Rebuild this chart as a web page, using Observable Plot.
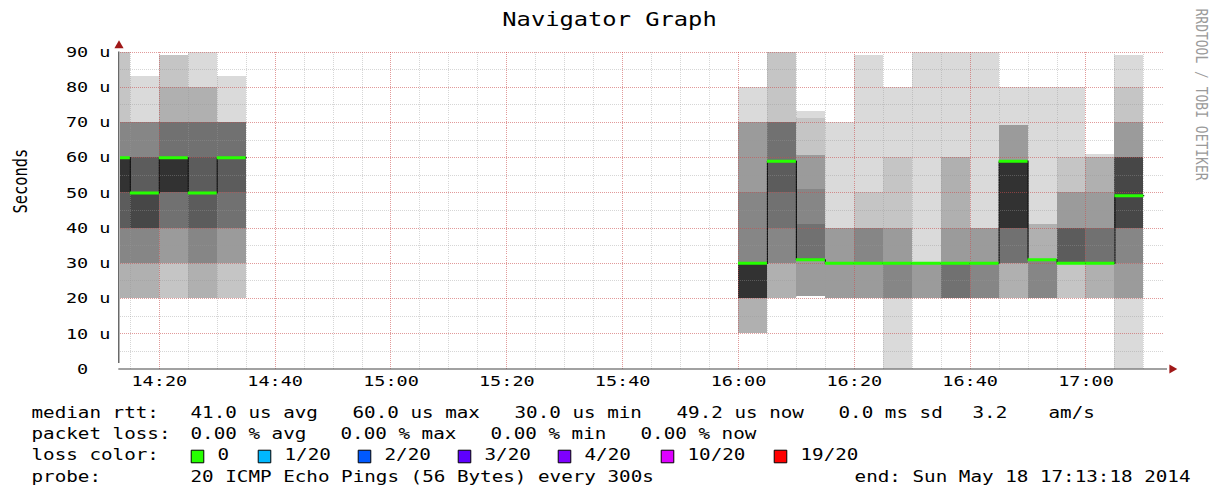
<!DOCTYPE html>
<html>
<head>
<meta charset="utf-8">
<script src="https://cdn.jsdelivr.net/npm/d3@7"></script>
<script src="https://cdn.jsdelivr.net/npm/@observablehq/plot@0.6"></script>
<style>
  body { margin: 0; background: #fff; }
  #chart { width: 1216px; height: 488px; }
</style>
</head>
<body>
<div id="chart"></div>
<script>
// ---------------- DATA ----------------
const graphStart = "14:13:18";
const graphEnd = "17:13:18";
const stepSeconds = 300;
// end time of each 5-minute step that has data
const stepEnds = ["14:15","14:20","14:25","14:30","14:35",
  "16:05","16:10","16:15","16:20","16:25","16:30","16:35","16:40","16:45","16:50","16:55","17:00","17:05","17:10"];
// sorted smoke ping RTTs (µs) per step
const smokePings = [
  [20,20,20,30,30,40,40,50,50, 60,60,60,60,70,70,70,90,90],
  [20,20,20,30,30,40,40,40,50, 50,50,60,60,70,70,70,70,83],
  [20,20,30,30,40,40,50,50,50, 60,60,60,70,70,70,80,89,89],
  [20,20,20,30,30,40,40,50,50, 50,50,60,70,70,70,80,80,90],
  [20,20,30,30,40,40,50,60,60, 60,60,60,70,70,70,70,70,83],
  [10,10,10,20,20,20,20,20,20, 30,30,30,30,50,70,70,70,80],
  [20,20,20,30,30,40,50,59,59, 59,59,59,70,70,70,70,90,90],
  [20.5,20.5,20.5,20.5,31,31,31,31,31, 31,31,31,41,51,60.5,60.5,71,73],
  [20,20,20,20,30,30,30,30,30, 30,30,30,30,30,40,40,40,70],
  [20,20,20,20,30,30,30,30,30, 30,30,30,30,40,40,40,50,89],
  [0,20,20,20,20,30,30,30,30, 30,30,30,30,30,40,40,60,80],
  [20,20,20,20,30,30,30,30,30, 30,30,30,30,30,30,30,30,90],
  [20,20,20,20,20,20,30,30,30, 30,30,30,30,30,40,60,60,90],
  [20,20,20,20,20,30,30,30,30, 30,30,30,30,30,40,40,40,90],
  [20,20,20,30,30,30,40,40,40, 59,59,59,59,59,69,69,69,80],
  [20,20,20,20,20,31,31,31,31, 31,31,31,31,31,31,41,41,80],
  [20,20,30,30,30,30,30,30,30, 30,30,40,40,40,50,50,60,80],
  [20,20,20,30,30,30,30,30,30, 30,30,30,40,40,50,60,60,61],
  [0,20,20,20,30,40,40,40,49, 49,60,60,60,60,70,70,80,89]
];
const medianRtt = [60,50,60,50,60, 30,59,31,30,30,30,30,30,30,59,31,30,30,49.2];
const stepLossIndex = [0,0,0,0,0, 0,0,0,0,0,0,0,0,0,0,0,0,0,0];

const yTickValues = [0,10,20,30,40,50,60,70,80,90];
const yTickLabels = ["0","10 u","20 u","30 u","40 u","50 u","60 u","70 u","80 u","90 u"];
const xTickLabels = ["14:20","14:40","15:00","15:20","15:40","16:00","16:20","16:40","17:00"];

const titleText = "Navigator Graph";
const yAxisTitle = "Seconds";
const watermark = "RRDTOOL / TOBI OETIKER";
const legendLabels = ["median rtt:", "packet loss:", "loss color:", "probe:"];
const rttStats = ["41.0 us avg", "60.0 us max", "30.0 us min", "49.2 us now", "0.0 ms sd", "3.2", "am/s"];
const lossStats = ["0.00 % avg", "0.00 % max", "0.00 % min", "0.00 % now"];
const lossLabels = ["0", "1/20", "2/20", "3/20", "4/20", "10/20", "19/20"];
const lossColors = ["#26ff00", "#00b8ff", "#0059ff", "#5e00ff", "#7e00ff", "#dd00ff", "#ff0000"];
const probeText = "20 ICMP Echo Pings (56 Bytes) every 300s";
const endText = "end: Sun May 18 17:13:18 2014";

// ---------------- LAYOUT ----------------
const W = 1216, H = 488;
const ML = 120, MR = 53.5, MT = 51.5, MB = 119.5;
const frameBottom = H - MB;
const FONT = "DejaVu Sans Mono";
const STRETCH = 1.25;
const legendRowY = [412.6, 433.8, 455, 476.2];
const legendLabelX = 31;
const rttX = [190, 352, 514, 676, 838, 972, 1048];
const lossX = [190, 340, 490, 640];
const swatchX = [197, 264, 364, 464, 564, 667, 780];
const swatchLabelX = [217, 284, 384, 484, 584, 687, 800];
const endRightX = 1190;

// ---------------- BUILD ----------------
const T = s => { const [h, m, sec = 0] = s.split(":").map(Number); return new Date(Date.UTC(2014, 4, 18, h, m, sec)); };
const t0 = T(graphStart), t1 = T(graphEnd);
const steps = stepEnds.map((e, i) => {
  const end = T(e);
  return {start: new Date(+end - stepSeconds * 1000), end, median: medianRtt[i], pings: smokePings[i],
          color: lossColors[stepLossIndex[i]]};
});

const bandGray = b => { const v = Math.floor(190 / 9 * (9 - (b + 1))) + 50; return `rgb(${v},${v},${v})`; };
const smoke = [];
for (let b = 0; b < 9; b++) {
  for (const s of steps) {
    smoke.push({x1: s.start, x2: s.end, y1: s.pings[b], y2: s.pings[17 - b], fill: bandGray(b)});
  }
}

const medianPath = [];
let g = 0;
steps.forEach((s, i) => {
  if (i > 0 && +steps[i - 1].end !== +s.start) g++;
  medianPath.push({t: s.start, v: s.median, g});
  const next = steps[i + 1];
  if (!next || +next.start !== +s.end) medianPath.push({t: s.end, v: s.median, g});
});

const xMinor = d3.utcMinute.every(5).range(t0, t1);
const xMajor = xTickLabels.map(T);
const yMinor = d3.range(5, 91, 5);
const yMajor = yTickValues.filter(v => v > 0);

const textMarks = [];
const addText = (str, x, y, opts = {}) => textMarks.push(Plot.text([str], {
  frameAnchor: "bottom-left", lineAnchor: "middle", dx: x - ML, dy: y - frameBottom, textAnchor: "start",
  fontSize: 15.4, fontFamily: FONT, fill: "#000", ...opts
}));
legendLabels.forEach((l, r) => addText(l, legendLabelX, legendRowY[r]));
rttStats.forEach((s, j) => addText(s, rttX[j], legendRowY[0]));
lossStats.forEach((s, j) => addText(s, lossX[j], legendRowY[1]));
lossLabels.forEach((s, j) => addText(s, swatchLabelX[j], legendRowY[2]));
addText(probeText, rttX[0], legendRowY[3]);
addText(endText, endRightX, legendRowY[3], {textAnchor: "end"});

const swatchMarks = lossColors.map((c, j) => Plot.dot([0], {
  frameAnchor: "bottom-left", dx: swatchX[j] - ML, dy: legendRowY[2] + 1 - frameBottom,
  symbol: "square", r: 7.1, fill: c, stroke: "#000", strokeWidth: 1
}));

const gridStyle = {strokeDasharray: "1,1", shapeRendering: "crispEdges"};
const chart = Plot.plot({
  width: W, height: H,
  marginLeft: ML, marginRight: MR, marginTop: MT, marginBottom: MB,
  x: {type: "utc", domain: [t0, t1], axis: null},
  y: {domain: [0, 90], axis: null},
  color: {type: "identity"},
  style: {fontFamily: FONT, background: "#fff", overflow: "visible"},
  marks: [
    Plot.rect(smoke, {x1: "x1", x2: "x2", y1: "y1", y2: "y2", fill: "fill", clip: true, shapeRendering: "crispEdges"}),
    Plot.ruleY(yMinor, {stroke: "#999", strokeOpacity: 0.4, ...gridStyle}),
    Plot.ruleX(xMinor, {stroke: "#999", strokeOpacity: 0.4, ...gridStyle}),
    Plot.ruleY(yMajor, {stroke: "#ff0000", strokeOpacity: 0.28, ...gridStyle}),
    Plot.ruleX(xMajor, {stroke: "#ff0000", strokeOpacity: 0.28, ...gridStyle}),
    Plot.line(medianPath, {x: "t", y: "v", z: "g", curve: "step-after", stroke: "#111", strokeWidth: 1.2,
      strokeDasharray: "1.5,1", clip: true}),
    Plot.ruleY(steps, {x1: "start", x2: "end", y: "median", stroke: "color", strokeWidth: 3, clip: true}),
    // axes
    Plot.ruleX([t0], {y1: 0, y2: 90, insetTop: -5.5, dx: -1.7, stroke: "#444", strokeWidth: 1.2}),
    Plot.ruleY([0], {x1: t0, x2: t1, insetLeft: -1.7, insetRight: -4.5, stroke: "#444", strokeWidth: 1.2}),
    Plot.dot([0], {frameAnchor: "top-left", dx: -1.5, dy: -6.5, symbol: "triangle", r: 3.4, fill: "#a01818"}),
    Plot.dot([0], {frameAnchor: "bottom-right", dx: 9, dy: 0, symbol: "triangle", r: 3.4, rotate: 90, fill: "#a01818"}),
    // tick labels
    Plot.text(yTickValues, {y: d => d, text: (d, i) => yTickLabels[i].includes(" ") ? yTickLabels[i] : yTickLabels[i] + "\u00a0\u00a0",
      frameAnchor: "left", lineAnchor: "middle", dx: -10, textAnchor: "end", fontSize: 14.8, fontFamily: FONT, fill: "#000"}),
    Plot.text(xMajor, {x: d => d, text: (d, i) => xTickLabels[i], frameAnchor: "bottom", lineAnchor: "middle", dy: 12.5,
      fontSize: 14.8, fontFamily: FONT, fill: "#000"}),
    // titles
    Plot.text([titleText], {frameAnchor: "top", lineAnchor: "middle", dx: 609 - (ML + (W - ML - MR) / 2), dy: 19 - MT,
      fontSize: 19, fontFamily: FONT, fill: "#000"}),
    Plot.text([yAxisTitle], {frameAnchor: "left", lineAnchor: "middle", dx: 20 - ML, dy: 3, rotate: -90, fontSize: 15.4, fontFamily: FONT, fill: "#000"}),
    Plot.text([watermark], {frameAnchor: "top-right", lineAnchor: "middle", dx: 1201 - (W - MR), dy: 8 - MT, rotate: 90, textAnchor: "start",
      fontSize: 13, fontFamily: FONT, fill: "#9a9a9a"}),
    ...textMarks,
    ...swatchMarks
  ]
});

// horizontally stretch every text, as in the original raster
chart.querySelectorAll("text").forEach(t => {
  const tr = t.getAttribute("transform") || "";
  if (tr.includes("rotate")) t.setAttribute("transform", tr.replace("rotate", `scale(${STRETCH},1) rotate`));
  else t.setAttribute("transform", `${tr} scale(${STRETCH},1)`);
});
document.getElementById("chart").appendChild(chart);
</script>
</body>
</html>
